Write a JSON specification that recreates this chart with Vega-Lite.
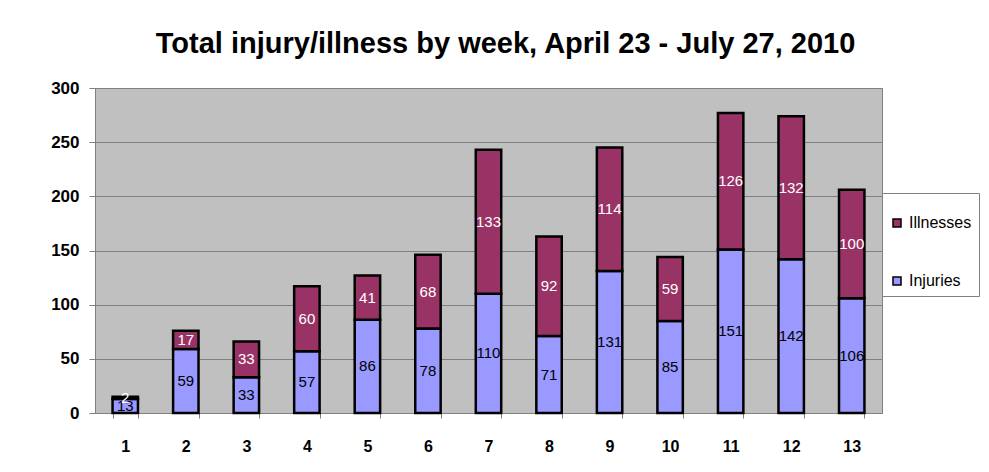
{
  "$schema": "https://vega.github.io/schema/vega-lite/v6.json",
  "autosize": "none",
  "width": 787,
  "height": 325,
  "padding": {"left": 95, "top": 88, "right": 107, "bottom": 59},
  "background": "white",
  "config": {
    "font": "Liberation Sans",
    "view": {"fill": "#C0C0C0", "stroke": "#808080", "strokeWidth": 1}
  },
  "title": {
    "text": "Total injury/illness by week, April 23 - July 27, 2010",
    "fontSize": 29,
    "fontWeight": "bold",
    "color": "#000000",
    "offset": 20,
    "dx": 17
  },
  "data": {
    "values": [
      {"week": 1, "type": "Injuries", "count": 13},
      {"week": 1, "type": "Illnesses", "count": 2},
      {"week": 2, "type": "Injuries", "count": 59},
      {"week": 2, "type": "Illnesses", "count": 17},
      {"week": 3, "type": "Injuries", "count": 33},
      {"week": 3, "type": "Illnesses", "count": 33},
      {"week": 4, "type": "Injuries", "count": 57},
      {"week": 4, "type": "Illnesses", "count": 60},
      {"week": 5, "type": "Injuries", "count": 86},
      {"week": 5, "type": "Illnesses", "count": 41},
      {"week": 6, "type": "Injuries", "count": 78},
      {"week": 6, "type": "Illnesses", "count": 68},
      {"week": 7, "type": "Injuries", "count": 110},
      {"week": 7, "type": "Illnesses", "count": 133},
      {"week": 8, "type": "Injuries", "count": 71},
      {"week": 8, "type": "Illnesses", "count": 92},
      {"week": 9, "type": "Injuries", "count": 131},
      {"week": 9, "type": "Illnesses", "count": 114},
      {"week": 10, "type": "Injuries", "count": 85},
      {"week": 10, "type": "Illnesses", "count": 59},
      {"week": 11, "type": "Injuries", "count": 151},
      {"week": 11, "type": "Illnesses", "count": 126},
      {"week": 12, "type": "Injuries", "count": 142},
      {"week": 12, "type": "Illnesses", "count": 132},
      {"week": 13, "type": "Injuries", "count": 106},
      {"week": 13, "type": "Illnesses", "count": 100}
    ]
  },
  "transform": [
    {"stack": "count", "groupby": ["week"], "sort": [{"field": "type", "order": "descending"}], "as": ["y0", "y1"]},
    {"calculate": "(datum.y0 + datum.y1) / 2", "as": "ymid"}
  ],
  "encoding": {
    "x": {
      "field": "week",
      "type": "ordinal",
      "scale": {"paddingInner": 0.58, "paddingOuter": 0.29},
      "axis": {
        "title": null,
        "labelAngle": 0,
        "labelFontSize": 16,
        "labelFontWeight": "bold",
        "labelColor": "#000000",
        "labelPadding": 20,
        "tickBand": "extent",
        "ticks": true,
        "tickSize": 5,
        "tickColor": "#808080",
        "domain": true,
        "domainColor": "#808080"
      }
    }
  },
  "layer": [
    {
      "mark": {"type": "bar", "stroke": "#000000", "strokeWidth": 2.5},
      "encoding": {
        "y": {
          "field": "y0",
          "type": "quantitative",
          "scale": {"domain": [0, 300], "nice": false},
          "axis": {
            "title": null,
            "values": [0, 50, 100, 150, 200, 250, 300],
            "labelFontSize": 17,
            "labelFontWeight": "bold",
            "labelColor": "#000000",
            "labelPadding": 10,
            "tickSize": 6,
            "tickColor": "#808080",
            "domainColor": "#808080",
            "grid": true,
            "gridColor": "#808080",
            "gridWidth": 1,
            "gridOpacity": 1
          }
        },
        "y2": {"field": "y1"},
        "color": {
          "field": "type",
          "type": "nominal",
          "scale": {"domain": ["Illnesses", "Injuries"], "range": ["#993366", "#9999FF"]},
          "legend": {
            "orient": "none",
            "legendX": 787,
            "legendY": 105,
            "title": " ",
            "titleFontSize": 10,
            "titlePadding": 5,
            "padding": 7,
            "fillColor": "#FFFFFF",
            "strokeColor": "#808080",
            "symbolType": "square",
            "symbolSize": 64,
            "symbolStrokeColor": "#000000",
            "symbolStrokeWidth": 1.5,
            "labelFontSize": 16,
            "labelColor": "#000000",
            "labelOffset": 4,
            "rowPadding": 42
          }
        }
      }
    },
    {
      "mark": {"type": "text", "fontSize": 15, "baseline": "middle"},
      "encoding": {
        "y": {"field": "ymid", "type": "quantitative"},
        "text": {"field": "count", "type": "quantitative"},
        "color": {
          "condition": {"test": "datum.type === 'Injuries'", "value": "#000000"},
          "value": "#FFFFFF"
        }
      }
    }
  ]
}
